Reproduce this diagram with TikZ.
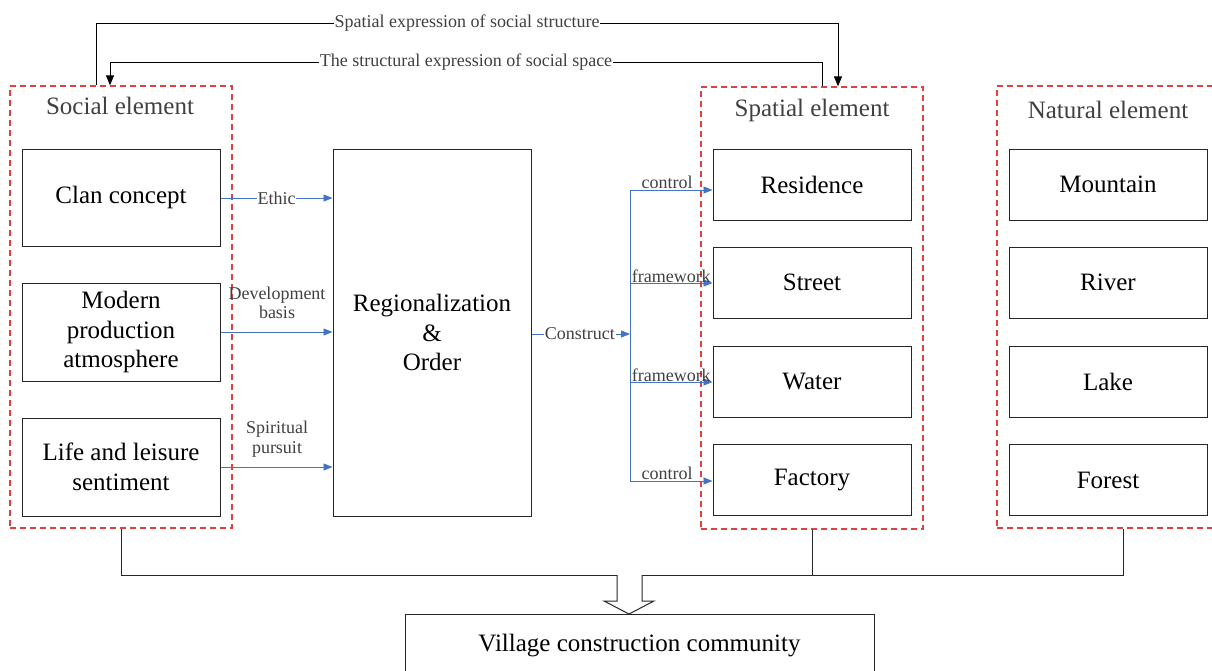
\documentclass[tikz,border=0pt]{standalone}
\usepackage{fontspec}
\setmainfont{Liberation Serif}
\usetikzlibrary{arrows.meta}
\definecolor{blu}{HTML}{4472C4}
\definecolor{dred}{HTML}{E04040}
\definecolor{txt}{HTML}{404040}
\begin{document}
\begin{tikzpicture}[x=1pt,y=-1pt,
  box/.style={draw=black!85, line width=1pt, align=center, inner sep=0pt,
    minimum width=198pt, font=\fontsize{25}{29.5}\selectfont},
  grp/.style={draw=dred, dashed, dash pattern=on 6pt off 4pt, line width=1.3pt, inner sep=0pt},
  ttl/.style={text=txt, font=\fontsize{25}{29}\selectfont},
  lbl/.style={text=txt, font=\fontsize{18}{20}\selectfont, inner sep=1pt, align=center},
  barr/.style={draw=blu, line width=0.9pt, -{Triangle[length=9pt,width=7pt]}},
  karr/.style={draw=black, line width=1pt, -{Triangle[length=10pt,width=8pt]}},
  kline/.style={draw=black!85, line width=1pt}]
\useasboundingbox (0,0) rectangle (1212,670);
\clip (0,0) rectangle (1212,670);
% groups
\node[grp, minimum width=222pt, minimum height=442pt] (socg) at (121,307) {};
\node[grp, minimum width=222pt, minimum height=442pt] (spg) at (812,308) {};
\node[grp, minimum width=252pt, minimum height=442pt] (natg) at (1123,307) {};
\node[ttl] (soct) at (120,106) {Social element};
\node[ttl] (spt) at (812,110) {Spatial element};
\node[ttl] (natt) at (1108,110) {Natural element};
% social boxes
\node[box, minimum height=97pt] (clan) at (121,197.5) {Clan concept};
\node[box, minimum height=98pt] (mod) at (121,332) {Modern\\production\\atmosphere};
\node[box, minimum height=98pt] (life) at (121,467) {Life and leisure\\sentiment};
\node[box, minimum height=367pt] (reg) at (432,332.5) {Regionalization\\\&\\Order};
% spatial boxes
\node[box, minimum height=71pt] (res) at (812,184.5) {Residence};
\node[box, minimum height=71pt] (str) at (812,282.5) {Street};
\node[box, minimum height=71pt] (wat) at (812,381.5) {Water};
\node[box, minimum height=71pt] (fac) at (812,480) {Factory};
% natural boxes
\node[box, minimum height=71pt] (mou) at (1108,184.5) {Mountain};
\node[box, minimum height=71pt] (riv) at (1108,282.5) {River};
\node[box, minimum height=71pt] (lak) at (1108,381.5) {Lake};
\node[box, minimum height=71pt] (for) at (1108,480) {Forest};
% village
\node[box, minimum width=469pt, minimum height=66pt, anchor=north west] (vil) at (405,614) {};
\node[font=\fontsize{25}{29}\selectfont] (vilt) at (639.5,646) {Village construction community};
% top arrows
\coordinate (a1) at (96,23);
\coordinate (a2) at (838,23);
\draw[karr] (socg.north -| a1) -- (a1) -- node[fill=white, lbl]{Spatial expression of social structure} (a2) -- (spg.north -| a2);
\coordinate (b1) at (822,62);
\coordinate (b2) at (110,62);
\draw[karr] (spg.north -| b1) -- (b1) -- node[fill=white, lbl]{The structural expression of social space} (b2) -- (socg.north -| b2);
% social to region
\draw[barr] (clan.east |- 0,198) -- node[fill=white, lbl]{Ethic} (reg.west |- 0,198);
\draw[barr] (mod.east) -- (reg.west |- mod.east);
\node[lbl] (devl) at (277,303) {Development\\[-1pt]basis};
\draw[barr] (life.east) -- (reg.west |- life.east);
\node[lbl] (spil) at (277,439) {Spiritual\\[0pt]pursuit};
% construct
\coordinate (cj) at (630,334);
\draw[barr] (reg.east |- cj) -- node[fill=white, lbl, pos=0.49]{Construct} (cj);
\coordinate (j1) at (630,190);
\coordinate (j2) at (630,283);
\coordinate (j3) at (630,382);
\coordinate (j4) at (630,481);
\draw[draw=blu, line width=0.9pt] (j1) -- (j4);
\draw[barr] (j1) -- node[lbl, above, pos=0.45]{control} (res.west |- j1);
\draw[barr] (j2) -- node[lbl, above, pos=0.5, inner sep=0pt]{framework} (str.west |- j2);
\draw[barr] (j3) -- node[lbl, above, pos=0.5, inner sep=0pt]{framework} (wat.west |- j3);
\draw[barr] (j4) -- node[lbl, above, pos=0.45]{control} (fac.west |- j4);
% bottom
\coordinate (h1) at (121,575);
\coordinate (h2) at (1123,575);
\draw[kline] (socg.south) -- (h1) -- (h2) -- (natg.south);
\draw[kline] (spg.south) -- (spg.south |- h1);
\draw[kline, fill=white] (617,575) -- (617,601) -- (604,601) -- (vil.north -| 629,0) -- (654,601) -- (642,601) -- (642,575);
\end{tikzpicture}
\end{document}
